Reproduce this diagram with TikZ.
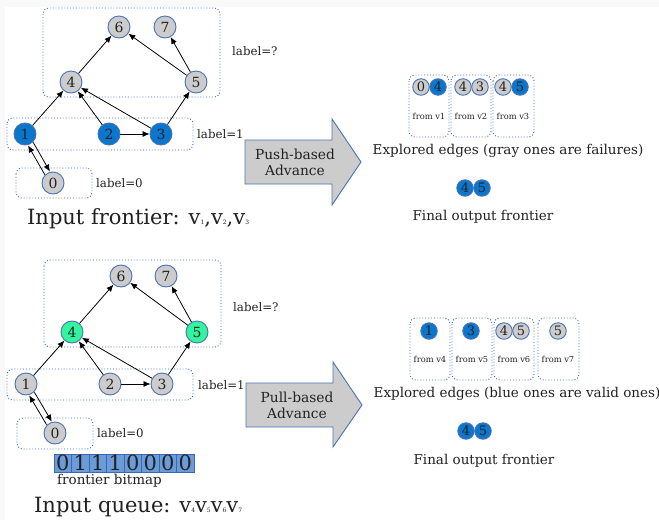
\documentclass[tikz,border=0pt]{standalone}
\usepackage{fontspec}
\setmainfont{DejaVu Serif}
\usetikzlibrary{arrows.meta,calc}
\definecolor{nblue}{HTML}{0A77CC}
\definecolor{nborder}{HTML}{4A72B8}
\definecolor{ngray}{HTML}{CCCCCC}
\definecolor{ngreen}{HTML}{33F59E}
\definecolor{dotc}{HTML}{3D6BC2}
\definecolor{bmfill}{HTML}{6B9BD8}
\definecolor{bmdraw}{HTML}{3A68B0}
\definecolor{txt}{HTML}{222222}
\newcommand{\sbn}[1]{{\fontsize{6}{6}\selectfont #1}}
\begin{document}
\begin{tikzpicture}[x=1pt,y=-1pt,
 vtx/.style={circle,draw=nborder,line width=0.9pt,minimum size=22pt,inner sep=0pt,text=txt,font=\fontsize{14}{14}\selectfont},
 gv/.style={vtx,fill=ngray}, bv/.style={vtx,fill=nblue}, grv/.style={vtx,fill=ngreen},
 sv/.style={circle,draw=nborder,line width=0.9pt,minimum size=16.5pt,inner sep=0pt,text=txt,font=\fontsize{13}{13}\selectfont},
 sg/.style={sv,fill=ngray}, sb/.style={sv,fill=nblue},
 arr/.style={-{Latex[length=7pt,width=6pt]},line width=0.8pt},
 dbox/.style={draw=dotc,dotted,line width=0.9pt,rounded corners=6pt},
 lbl/.style={font=\fontsize{11.8}{11.8}\selectfont,text=txt,anchor=west,inner sep=0pt},
 tiny/.style={font=\fontsize{8.3}{8.3}\selectfont,text=txt,inner sep=0pt},
 mid/.style={font=\fontsize{13.5}{13.5}\selectfont,text=txt,inner sep=0pt},
 big/.style={font=\fontsize{21}{21}\selectfont,text=txt,anchor=west,inner sep=0pt},
 bigarrow/.style={fill=ngray,draw=nborder,line width=0.9pt},
 advtext/.style={align=center,font=\fontsize{13.8}{16}\selectfont,text=txt,inner sep=0pt},
 bcell/.style={draw=bmdraw,fill=bmfill,line width=0.7pt,minimum width=17.5pt,minimum height=18pt,inner sep=0pt,text=txt,font=\fontsize{21}{21}\selectfont}
]
\useasboundingbox (0,0) rectangle (659,520);
\fill[gray!5] (0,0) rectangle (659,520);
\fill[white] (5,7) rectangle (659,520);

% ---------------- top graph ----------------
\draw[dbox] (43,8) rectangle (220,97);
\draw[dbox] (7,118) rectangle (193,150);
\draw[dbox] (16,168) rectangle (92,198);
\node[gv] (a6) at (119,27) {6};
\node[gv] (a7) at (165,27) {7};
\node[gv] (a4) at (71,82) {4};
\node[gv] (a5) at (196,82) {5};
\node[bv] (a1) at (25,134) {1};
\node[bv] (a2) at (109,134) {2};
\node[bv] (a3) at (161,134) {3};
\node[gv] (a0) at (53,183) {0};
\draw[arr] (a1) -- (a4);
\draw[arr] (a2) -- (a4);
\draw[arr] (a3) -- (a4);
\draw[arr] (a4) -- (a6);
\draw[arr] (a5) -- (a6);
\draw[arr] (a5) -- (a7);
\draw[arr] (a3) -- (a5);
\draw[arr] (a2) -- (a3);
\draw[arr,transform canvas={shift={(-2.6,1.5)}}] (a0) -- (a1);
\draw[arr,transform canvas={shift={(2.6,-1.5)}}] (a1) -- (a0);
\node[lbl] (al1) at (232,51) {label=?};
\node[lbl] (al2) at (197,134) {label=1};
\node[lbl] (al3) at (96,183) {label=0};
\node[big] (atitle) at (27,219) {Input frontier: v\sbn{1},v\sbn{2},v\sbn{3}};

\draw[bigarrow] (245,140) -- (332,140) -- (332,119) -- (361,162) -- (332,205) -- (332,184) -- (245,184) -- cycle;
\node[advtext] (apush) at (295,162) {Push-based\\Advance};

\draw[dbox] (409,75) rectangle (449,137);
\draw[dbox] (451,75) rectangle (491,137);
\draw[dbox] (493,75) rectangle (534,137);
\node[sg] (e10) at (421,87) {0};
\node[sb] (e14) at (438,87) {4};
\node[sg] (e24) at (463,87) {4};
\node[sg] (e23) at (480,87) {3};
\node[sg] (e34) at (503,87) {4};
\node[sb] (e35) at (520,87) {5};
\node[tiny] (f1) at (429,116) {from v1};
\node[tiny] (f2) at (471,116) {from v2};
\node[tiny] (f3) at (513,116) {from v3};
\node[mid] (aexp) at (508,151) {Explored edges (gray ones are failures)};
\node[sb] (o14) at (465,188) {4};
\node[sb] (o15) at (482,188) {5};
\node[mid] (afin) at (483,217) {Final output frontier};

% ---------------- bottom graph ----------------
\draw[dbox] (44,260) rectangle (221,347);
\draw[dbox] (7,369) rectangle (193,400);
\draw[dbox] (17,418) rectangle (93,449);
\node[gv] (b6) at (121,276) {6};
\node[gv] (b7) at (166,276) {7};
\node[grv] (b4) at (72,332) {4};
\node[grv] (b5) at (197,332) {5};
\node[gv] (b1) at (26,384) {1};
\node[gv] (b2) at (110,384) {2};
\node[gv] (b3) at (162,384) {3};
\node[gv] (b0) at (55,433) {0};
\draw[arr] (b1) -- (b4);
\draw[arr] (b2) -- (b4);
\draw[arr] (b3) -- (b4);
\draw[arr] (b4) -- (b6);
\draw[arr] (b5) -- (b6);
\draw[arr] (b5) -- (b7);
\draw[arr] (b3) -- (b5);
\draw[arr] (b2) -- (b3);
\draw[arr,transform canvas={shift={(-2.6,1.5)}}] (b0) -- (b1);
\draw[arr,transform canvas={shift={(2.6,-1.5)}}] (b1) -- (b0);
\node[lbl] (bl1) at (233,307) {label=?};
\node[lbl] (bl2) at (198,385) {label=1};
\node[lbl] (bl3) at (97,433) {label=0};

\foreach \d [count=\i] in {0,1,1,1,0,0,0,0}
  \node[bcell] (bm\i) at ({54+17.5*(\i-0.5)},463) {\d};
\node[lbl,font=\fontsize{13.5}{13.5}\selectfont] (bmt) at (57,481) {frontier bitmap};
\node[big] (btitle) at (34,507) {Input queue: v\sbn{4}v\sbn{5}v\sbn{6}v\sbn{7}};

\draw[bigarrow] (246,383) -- (333,383) -- (333,362) -- (362,405) -- (333,447) -- (333,427) -- (246,427) -- cycle;
\node[advtext] (bpull) at (297,405) {Pull-based\\Advance};

\draw[dbox] (410,318) rectangle (450,380);
\draw[dbox] (452,318) rectangle (492,380);
\draw[dbox] (494,318) rectangle (534,380);
\draw[dbox] (538,318) rectangle (579,380);
\node[sb] (g1) at (429,331) {1};
\node[sb] (g3) at (471,331) {3};
\node[sg] (g4) at (504,331) {4};
\node[sg] (g5) at (521,331) {5};
\node[sg] (g7) at (558,331) {5};
\node[tiny] (h4) at (430,359) {from v4};
\node[tiny] (h5) at (472,359) {from v5};
\node[tiny] (h6) at (514,359) {from v6};
\node[tiny] (h7) at (558,359) {from v7};
\node[mid] (bexp) at (517,394) {Explored edges (blue ones are valid ones)};
\node[sb] (o24) at (466,431) {4};
\node[sb] (o25) at (483,431) {5};
\node[mid] (bfin) at (484,461) {Final output frontier};
\end{tikzpicture}
\end{document}
